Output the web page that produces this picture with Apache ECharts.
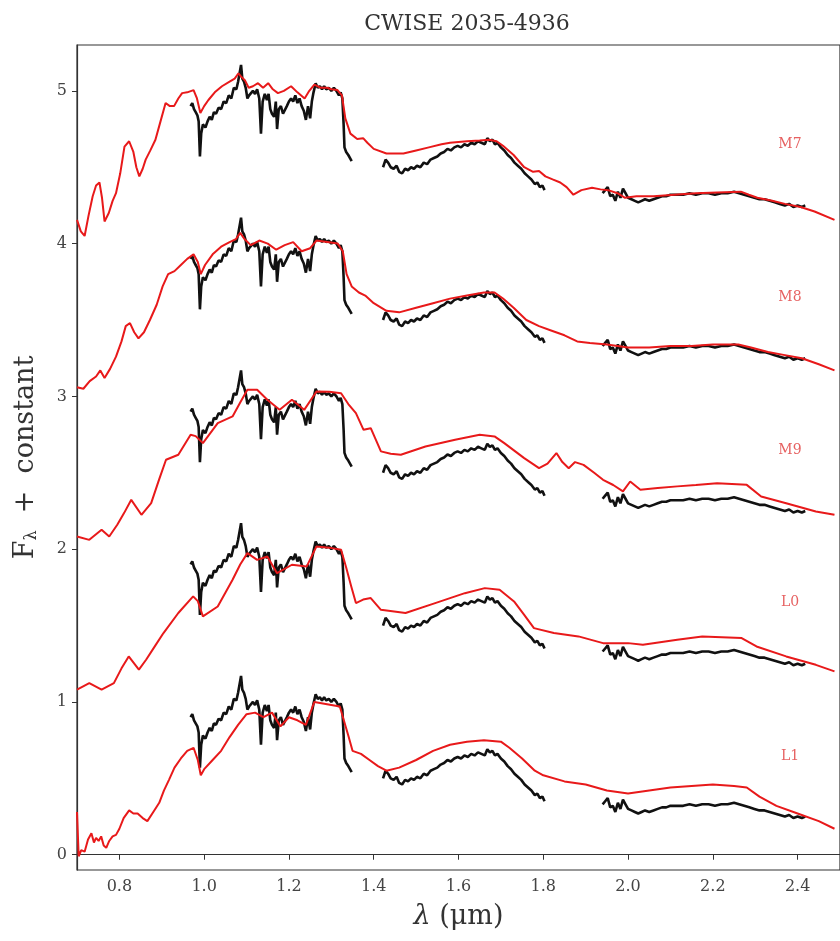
<!DOCTYPE html>
<html>
<head>
<meta charset="utf-8">
<title>CWISE 2035-4936</title>
<script src="https://cdn.jsdelivr.net/npm/echarts@6/dist/echarts.min.js"></script>
<style>
  html, body { margin: 0; padding: 0; background: #fff; }
  #main { width: 840px; height: 941px; }
</style>
</head>
<body>
<div id="main"></div>
<script>
// observed spectrum (normalised), J / H / K pieces
var obsJ = [[0.968,0.90],[0.972,0.92],[0.976,0.88],[0.980,0.86],[0.984,0.84],[0.987,0.80],[0.990,0.57],[0.993,0.72],[0.997,0.78],[1.003,0.76],[1.008,0.80],[1.013,0.83],[1.018,0.81],[1.023,0.86],[1.028,0.85],[1.034,0.89],[1.040,0.88],[1.046,0.93],[1.052,0.92],[1.058,0.97],[1.064,0.95],[1.070,1.02],[1.076,1.01],[1.080,1.06],[1.084,1.05],[1.087,1.17],[1.090,1.08],[1.094,1.06],[1.098,1.02],[1.102,0.95],[1.106,0.97],[1.110,0.96],[1.115,1.00],[1.120,0.98],[1.125,1.01],[1.130,0.95],[1.134,0.72],[1.138,0.93],[1.143,0.98],[1.148,0.94],[1.152,0.98],[1.156,0.88],[1.160,0.85],[1.165,0.83],[1.169,0.93],[1.172,0.75],[1.176,0.88],[1.181,0.90],[1.186,0.85],[1.190,0.84],[1.195,0.90],[1.200,0.93],[1.205,0.95],[1.210,0.93],[1.215,0.97],[1.220,0.92],[1.225,0.95],[1.230,0.90],[1.235,0.87],[1.240,0.81],[1.245,0.90],[1.250,0.82],[1.254,0.93],[1.258,0.99],[1.263,1.05],[1.268,1.02],[1.273,1.03],[1.278,1.01],[1.283,1.03],[1.288,1.01],[1.294,1.02],[1.300,1.00],[1.306,1.02],[1.312,1.00],[1.318,0.97],[1.322,0.99],[1.326,0.95],[1.329,0.78],[1.331,0.63],[1.335,0.60],[1.340,0.58],[1.344,0.57],[1.348,0.54]];
var obsH = [[1.422,0.50],[1.428,0.55],[1.434,0.53],[1.440,0.50],[1.447,0.49],[1.454,0.51],[1.460,0.47],[1.467,0.46],[1.474,0.49],[1.481,0.48],[1.488,0.50],[1.495,0.49],[1.502,0.51],[1.510,0.50],[1.518,0.53],[1.526,0.52],[1.534,0.55],[1.542,0.56],[1.550,0.57],[1.558,0.59],[1.566,0.60],[1.574,0.62],[1.582,0.61],[1.590,0.63],[1.598,0.64],[1.606,0.63],[1.614,0.65],[1.622,0.64],[1.630,0.66],[1.638,0.65],[1.646,0.67],[1.654,0.66],[1.662,0.65],[1.668,0.69],[1.674,0.67],[1.680,0.68],[1.686,0.65],[1.692,0.66],[1.700,0.63],[1.708,0.61],[1.716,0.58],[1.724,0.56],[1.732,0.53],[1.740,0.51],[1.748,0.49],[1.756,0.46],[1.764,0.44],[1.772,0.42],[1.780,0.39],[1.786,0.40],[1.792,0.37],[1.798,0.38],[1.803,0.35]];
var obsK = [[1.940,0.33],[1.946,0.35],[1.952,0.37],[1.958,0.31],[1.964,0.32],[1.970,0.28],[1.976,0.34],[1.982,0.30],[1.988,0.36],[1.994,0.33],[2.000,0.30],[2.008,0.29],[2.016,0.28],[2.024,0.27],[2.032,0.28],[2.040,0.29],[2.050,0.28],[2.060,0.29],[2.070,0.30],[2.080,0.31],[2.090,0.31],[2.100,0.32],[2.115,0.32],[2.130,0.32],[2.145,0.33],[2.160,0.32],[2.175,0.33],[2.190,0.33],[2.205,0.32],[2.220,0.33],[2.235,0.33],[2.250,0.34],[2.262,0.33],[2.274,0.32],[2.286,0.31],[2.298,0.30],[2.310,0.29],[2.322,0.29],[2.334,0.28],[2.346,0.27],[2.358,0.26],[2.370,0.25],[2.380,0.26],[2.390,0.24],[2.400,0.25],[2.410,0.24],[2.418,0.25]];

// standard templates (normalised)
var m7 = [[0.700,0.155],[0.709,0.08],[0.718,0.05],[0.727,0.18],[0.737,0.31],[0.745,0.38],[0.753,0.40],[0.759,0.30],[0.765,0.145],[0.775,0.20],[0.784,0.28],[0.792,0.33],[0.802,0.46],[0.812,0.635],[0.823,0.67],[0.833,0.60],[0.840,0.50],[0.847,0.44],[0.855,0.49],[0.862,0.55],[0.873,0.61],[0.885,0.68],[0.897,0.80],[0.909,0.92],[0.919,0.90],[0.929,0.90],[0.939,0.95],[0.948,0.985],[0.960,0.99],[0.975,1.005],[0.983,0.95],[0.991,0.855],[1.000,0.90],[1.010,0.94],[1.025,0.99],[1.042,1.03],[1.060,1.06],[1.072,1.08],[1.081,1.115],[1.088,1.09],[1.096,1.07],[1.105,1.02],[1.115,1.03],[1.127,1.05],[1.139,1.02],[1.151,1.05],[1.162,1.01],[1.174,0.985],[1.188,1.00],[1.205,1.03],[1.220,0.99],[1.237,0.95],[1.248,1.00],[1.260,1.04],[1.275,1.02],[1.290,1.02],[1.300,1.01],[1.314,1.006],[1.325,0.97],[1.333,0.82],[1.345,0.72],[1.361,0.685],[1.375,0.69],[1.385,0.66],[1.400,0.62],[1.430,0.59],[1.470,0.59],[1.500,0.61],[1.530,0.63],[1.560,0.65],[1.580,0.66],[1.620,0.67],[1.650,0.675],[1.672,0.68],[1.690,0.67],[1.705,0.64],[1.730,0.58],[1.755,0.50],[1.776,0.47],[1.790,0.475],[1.805,0.44],[1.822,0.42],[1.840,0.40],[1.855,0.37],[1.871,0.32],[1.890,0.35],[1.915,0.365],[1.935,0.355],[1.953,0.35],[1.975,0.33],[1.993,0.30],[2.020,0.31],[2.060,0.31],[2.110,0.32],[2.160,0.33],[2.210,0.335],[2.266,0.34],[2.285,0.32],[2.305,0.30],[2.340,0.28],[2.370,0.26],[2.407,0.24],[2.440,0.21],[2.487,0.155]];
var m8 = [[0.700,0.06],[0.715,0.05],[0.730,0.10],[0.745,0.13],[0.755,0.17],[0.765,0.12],[0.778,0.18],[0.792,0.26],[0.805,0.36],[0.815,0.46],[0.825,0.48],[0.835,0.42],[0.845,0.38],[0.858,0.42],[0.872,0.50],[0.888,0.60],[0.902,0.72],[0.915,0.80],[0.930,0.82],[0.945,0.86],[0.960,0.90],[0.975,0.93],[0.985,0.88],[0.992,0.80],[1.002,0.86],[1.020,0.93],[1.040,0.98],[1.060,1.01],[1.075,1.03],[1.085,1.07],[1.095,1.03],[1.110,0.99],[1.130,1.02],[1.150,1.00],[1.170,0.96],[1.190,0.99],[1.210,1.01],[1.230,0.95],[1.250,0.97],[1.265,1.02],[1.290,1.01],[1.315,1.00],[1.327,0.95],[1.336,0.80],[1.348,0.72],[1.365,0.68],[1.380,0.66],[1.400,0.61],[1.430,0.56],[1.460,0.55],[1.500,0.58],[1.540,0.61],[1.580,0.64],[1.620,0.66],[1.660,0.68],[1.685,0.68],[1.705,0.64],[1.730,0.58],[1.760,0.50],[1.790,0.46],[1.820,0.43],[1.850,0.40],[1.880,0.36],[1.910,0.35],[1.950,0.34],[2.000,0.32],[2.050,0.32],[2.100,0.33],[2.150,0.33],[2.200,0.34],[2.260,0.34],[2.290,0.32],[2.330,0.29],[2.370,0.27],[2.410,0.25],[2.450,0.21],[2.487,0.17]];
var m9 = [[0.700,0.083],[0.729,0.061],[0.758,0.127],[0.776,0.083],[0.795,0.16],[0.811,0.236],[0.828,0.323],[0.852,0.225],[0.875,0.301],[0.893,0.45],[0.910,0.585],[0.939,0.618],[0.968,0.749],[0.980,0.74],[0.997,0.694],[1.032,0.825],[1.067,0.869],[1.085,0.96],[1.102,1.043],[1.125,1.043],[1.149,0.978],[1.178,0.912],[1.207,0.978],[1.236,0.912],[1.265,1.032],[1.295,1.03],[1.323,1.021],[1.340,0.95],[1.358,0.890],[1.376,0.781],[1.393,0.792],[1.417,0.640],[1.440,0.625],[1.464,0.618],[1.522,0.672],[1.592,0.716],[1.650,0.749],[1.685,0.738],[1.708,0.694],[1.755,0.596],[1.790,0.530],[1.810,0.56],[1.831,0.629],[1.845,0.57],[1.860,0.530],[1.875,0.57],[1.895,0.552],[1.920,0.50],[1.941,0.454],[1.965,0.42],[1.988,0.378],[2.005,0.443],[2.029,0.389],[2.070,0.40],[2.116,0.411],[2.160,0.42],[2.210,0.432],[2.280,0.421],[2.314,0.345],[2.373,0.301],[2.443,0.247],[2.487,0.225]];
var l0 = [[0.700,0.08],[0.729,0.123],[0.758,0.08],[0.787,0.123],[0.805,0.22],[0.822,0.298],[0.846,0.211],[0.863,0.276],[0.885,0.37],[0.904,0.451],[0.939,0.582],[0.974,0.691],[0.985,0.66],[0.997,0.560],[1.032,0.625],[1.067,0.800],[1.085,0.90],[1.102,0.974],[1.125,0.930],[1.149,0.952],[1.172,0.843],[1.207,0.898],[1.242,0.887],[1.265,1.018],[1.295,1.01],[1.323,0.996],[1.335,0.88],[1.347,0.756],[1.358,0.647],[1.375,0.67],[1.393,0.680],[1.417,0.603],[1.475,0.582],[1.545,0.647],[1.615,0.712],[1.662,0.745],[1.697,0.734],[1.731,0.658],[1.755,0.57],[1.778,0.483],[1.825,0.451],[1.883,0.429],[1.941,0.385],[2.000,0.385],[2.035,0.374],[2.116,0.407],[2.175,0.429],[2.268,0.418],[2.303,0.363],[2.373,0.298],[2.443,0.243],[2.487,0.200]];
var l1 = [[0.700,0.28],[0.704,-0.01],[0.710,0.03],[0.718,0.02],[0.726,0.10],[0.734,0.14],[0.740,0.08],[0.745,0.11],[0.751,0.09],[0.757,0.12],[0.763,0.06],[0.769,0.045],[0.776,0.09],[0.784,0.12],[0.792,0.13],[0.800,0.17],[0.810,0.24],[0.823,0.29],[0.833,0.27],[0.843,0.27],[0.855,0.24],[0.866,0.22],[0.880,0.28],[0.894,0.34],[0.905,0.42],[0.917,0.49],[0.930,0.57],[0.945,0.63],[0.960,0.68],[0.975,0.70],[0.985,0.62],[0.992,0.52],[1.000,0.56],[1.020,0.62],[1.040,0.68],[1.060,0.77],[1.080,0.85],[1.100,0.92],[1.120,0.93],[1.140,0.90],[1.160,0.93],[1.180,0.84],[1.200,0.90],[1.220,0.88],[1.240,0.85],[1.260,1.00],[1.300,0.98],[1.320,0.97],[1.340,0.78],[1.350,0.68],[1.370,0.66],[1.390,0.62],[1.410,0.58],[1.430,0.55],[1.460,0.57],[1.500,0.62],[1.540,0.68],[1.580,0.72],[1.620,0.74],[1.660,0.75],[1.700,0.74],[1.720,0.70],[1.750,0.63],[1.780,0.55],[1.800,0.52],[1.850,0.48],[1.900,0.46],[1.950,0.42],[2.000,0.40],[2.050,0.42],[2.100,0.44],[2.150,0.45],[2.200,0.46],[2.250,0.45],[2.280,0.44],[2.310,0.38],[2.350,0.32],[2.400,0.27],[2.450,0.22],[2.487,0.17]];

var models = [m7, m8, m9, l0, l1];
var spTypes = ['M7', 'M8', 'M9', 'L0', 'L1'];
var offsets = [4, 3, 2, 1, 0];
var labelX = 2.382;
var labelY = [4.65, 3.645, 2.645, 1.65, 0.645];

var xTicks = [0.8, 1.0, 1.2, 1.4, 1.6, 1.8, 2.0, 2.2, 2.4];
var yTicks = [0, 1, 2, 3, 4, 5];

function shift(arr, off) {
  return arr.map(function (p) { return [p[0], p[1] + off]; });
}

var series = [];
for (var i = 0; i < models.length; i++) {
  var off = offsets[i];
  // gaps between the bands
  var obs = shift(obsJ, off).concat([[1.38, null]], shift(obsH, off), [[1.87, null]], shift(obsK, off));
  series.push({
    type: 'line', data: obs, showSymbol: false, connectNulls: false,
    lineStyle: { color: '#111', width: 2.6 }, z: 2, silent: true
  });
  series.push({
    type: 'line', data: shift(models[i], off), showSymbol: false,
    lineStyle: { color: '#e8191a', width: 2 }, z: 3, silent: true
  });
}
series.push({
  type: 'scatter', symbolSize: 0, silent: true,
  data: spTypes.map(function (n, k) { return { name: n, value: [labelX, labelY[k]] }; }),
  label: {
    show: true, position: 'inside', formatter: '{b}',
    color: '#e03a3a', fontFamily: 'DejaVu Serif', fontSize: 14
  }
});

var chart = echarts.init(document.getElementById('main'));
var serif = 'DejaVu Serif';
var option = {
  animation: false,
  backgroundColor: '#fff',
  title: {
    text: 'CWISE 2035-4936', left: 462, top: 8, textAlign: 'center',
    textStyle: { fontFamily: serif, fontWeight: 'normal', fontSize: 22, color: '#333' }
  },
  grid: { left: 77, top: 45, width: 769.5, height: 825, show: true, borderColor: '#333', borderWidth: 1.2 },
  xAxis: {
    type: 'value', min: 0.7, max: 2.5,
    splitLine: { show: false },
    axisLine: { lineStyle: { color: '#333', width: 1.2 } },
    axisTick: { length: 5, lineStyle: { color: '#333' }, customValues: xTicks },
    axisLabel: { customValues: xTicks, color: '#444', fontFamily: serif, fontSize: 16, margin: 9,
      formatter: function (v) { return v.toFixed(1); } },
    name: '{i|λ} (μm)', nameLocation: 'middle', nameGap: 33,
    nameTextStyle: { fontFamily: serif, fontSize: 27, color: '#333',
      rich: { i: { fontFamily: serif, fontStyle: 'italic', fontSize: 27, color: '#333' } } }
  },
  yAxis: {
    type: 'value', min: -0.1, max: 5.3,
    splitLine: { show: false },
    axisLine: { show: true, lineStyle: { color: '#333', width: 1.2 } },
    axisTick: { show: true, length: 5, lineStyle: { color: '#333' }, customValues: yTicks },
    axisLabel: { customValues: yTicks, color: '#444', fontFamily: serif, fontSize: 16, margin: 10 },
    name: 'F{s|λ}  +  constant', nameLocation: 'middle', nameGap: 37, nameRotate: 90,
    nameTextStyle: { fontFamily: serif, fontSize: 27, color: '#333',
      rich: { s: { fontFamily: serif, fontSize: 16, color: '#333', verticalAlign: 'bottom', padding: [12, 0, 0, 0] } } }
  },
  series: series
};
chart.setOption(option);
</script>
</body>
</html>
